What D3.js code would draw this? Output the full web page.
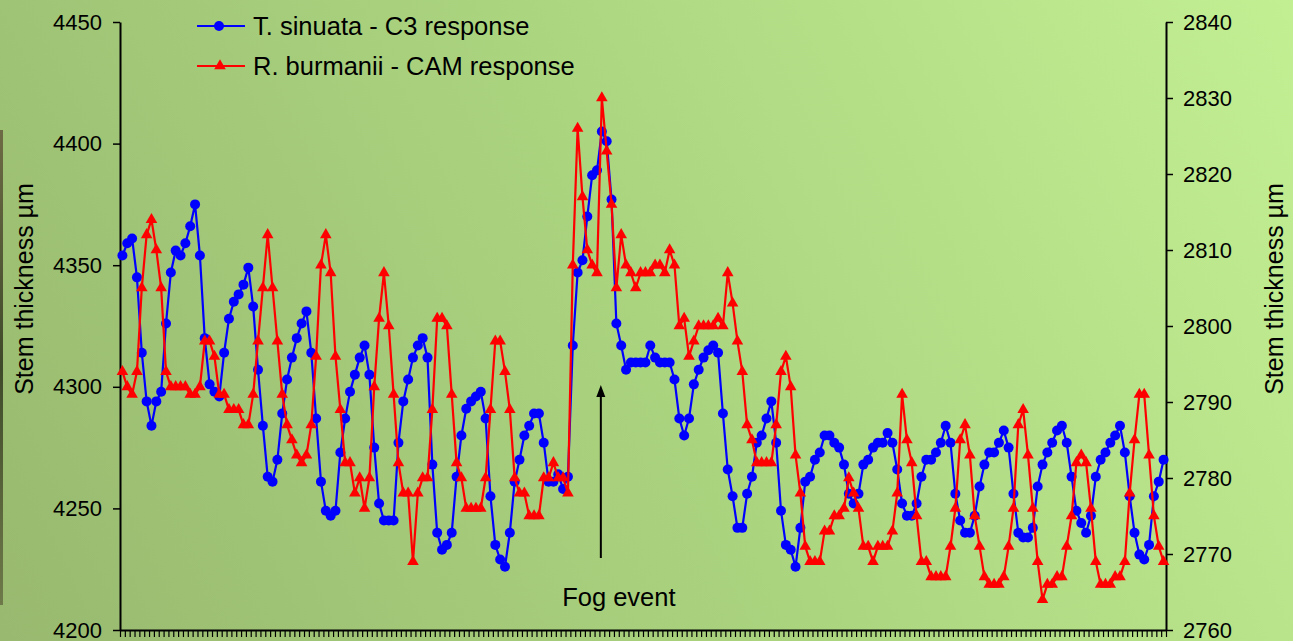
<!DOCTYPE html>
<html>
<head>
<meta charset="utf-8">
<script src="https://cdn.jsdelivr.net/npm/d3@7"></script>
<style>
  html, body { margin: 0; padding: 0; overflow: hidden; }
  svg { display: block; font-family: "Liberation Sans", Arial, sans-serif; }
</style>
</head>
<body>
<svg id="chart" width="1293" height="641"></svg>
<script>
// ---- Data (hourly readings, 216 categories) ----
const seriesNames = ["T. sinuata - C3 response", "R. burmanii - CAM response"];
const leftTicks = [4200, 4250, 4300, 4350, 4400, 4450];
const rightTicks = [2760, 2770, 2780, 2790, 2800, 2810, 2820, 2830, 2840];
const annotation = "Fog event";
const axisTitle = "Stem thickness µm";

const sinuata = [
  4354,4359,4361,4345,4314,4294,4284,4294,4298,4326,
  4347,4356,4354,4359,4366,4375,4354,4320,4301,4298,
  4296,4314,4328,4335,4338,4342,4349,4333,4307,4284,
  4263,4261,4270,4289,4303,4312,4320,4326,4331,4314,
  4287,4261,4249,4247,4249,4273,4287,4298,4305,4312,
  4317,4305,4275,4252,4245,4245,4245,4277,4294,4303,
  4312,4317,4320,4312,4268,4240,4233,4235,4240,4263,
  4280,4291,4294,4296,4298,4287,4255,4235,4229,4226,
  4240,4261,4270,4280,4284,4289,4289,4277,4261,4261,
  4264,4258,4263,4317,4347,4352,4370,4387,4389,4405,
  4401,4377,4326,4317,4307,4310,4310,4310,4310,4317,
  4312,4310,4310,4310,4303,4287,4280,4287,4301,4307,
  4312,4315,4317,4314,4289,4266,4255,4242,4242,4256,
  4263,4277,4280,4287,4294,4277,4249,4235,4233,4226,
  4242,4261,4263,4270,4273,4280,4280,4277,4275,4268,
  4256,4252,4256,4268,4270,4275,4277,4277,4281,4277,
  4266,4252,4247,4247,4252,4263,4270,4270,4273,4277,
  4284,4277,4256,4245,4240,4240,4247,4259,4268,4273,
  4273,4277,4282,4275,4256,4240,4238,4238,4242,4259,
  4268,4273,4277,4282,4284,4277,4263,4249,4244,4240,
  4247,4263,4270,4273,4277,4280,4284,4273,4255,4240,
  4231,4229,4235,4255,4261,4270
];

const burmanii = [
  2794,2792,2791,2794,2805,2812,2814,2810,2805,2794,
  2792,2792,2792,2792,2791,2791,2792,2798,2798,2796,
  2791,2791,2789,2789,2789,2787,2787,2791,2798,2805,
  2812,2805,2798,2791,2787,2785,2783,2782,2783,2787,
  2796,2808,2812,2807,2796,2789,2782,2782,2778,2780,
  2776,2780,2792,2801,2807,2800,2791,2782,2778,2778,
  2769,2778,2780,2780,2789,2801,2801,2800,2791,2782,
  2780,2776,2776,2776,2776,2780,2789,2798,2798,2794,
  2789,2780,2778,2778,2775,2775,2775,2780,2780,2782,
  2780,2780,2778,2808,2826,2817,2810,2808,2807,2830,
  2823,2816,2805,2812,2808,2807,2805,2807,2807,2807,
  2808,2808,2807,2810,2808,2800,2801,2796,2798,2800,
  2800,2800,2800,2801,2800,2807,2803,2798,2794,2787,
  2785,2782,2782,2782,2782,2787,2794,2796,2792,2783,
  2778,2771,2769,2769,2769,2773,2773,2775,2775,2776,
  2780,2778,2776,2771,2771,2769,2771,2771,2771,2773,
  2778,2791,2785,2782,2775,2769,2769,2767,2767,2767,
  2767,2771,2776,2785,2787,2783,2775,2771,2767,2766,
  2766,2766,2767,2771,2776,2787,2789,2783,2776,2769,
  2764,2766,2766,2767,2767,2771,2775,2782,2783,2782,
  2776,2769,2766,2766,2766,2767,2767,2769,2778,2785,
  2791,2791,2783,2775,2771,2769
];
const fogIndex = 99;  // category where the fog event arrow points

// ---- Layout ----
const W = 1293, H = 641;
const plot = { left: 120, right: 1166, top: 22, bottom: 630 };
const N = sinuata.length;

const svg = d3.select("#chart");

// background gradient
const defs = svg.append("defs");
const grad = defs.append("linearGradient")
  .attr("id", "bg").attr("gradientUnits", "userSpaceOnUse")
  .attr("x1", 0).attr("y1", H).attr("x2", W).attr("y2", 0);
grad.append("stop").attr("offset", "0%").attr("stop-color", "#98b96f");
grad.append("stop").attr("offset", "50%").attr("stop-color", "#abd47f");
grad.append("stop").attr("offset", "100%").attr("stop-color", "#c3ef93");
svg.append("rect").attr("width", W).attr("height", H).attr("fill", "url(#bg)");

// thin dark edge on the left (photo border)
const edge = defs.append("linearGradient").attr("id", "edge").attr("x1", 0).attr("y1", 0).attr("x2", 0).attr("y2", 1);
edge.append("stop").attr("offset", "0%").attr("stop-color", "#6d6b45");
edge.append("stop").attr("offset", "50%").attr("stop-color", "#3f4a2a");
edge.append("stop").attr("offset", "100%").attr("stop-color", "#6f7a4a");
svg.append("rect").attr("x", 0).attr("y", 130).attr("width", 3).attr("height", 475).attr("fill", "url(#edge)");

// ---- Scales ----
const x = d3.scaleLinear().domain([0, N]).range([plot.left, plot.right]);
const yL = d3.scaleLinear().domain([4200, 4450]).range([plot.bottom, plot.top]);
const yR = d3.scaleLinear().domain([2760, 2840]).range([plot.bottom, plot.top]);
const cx = i => x(i + 0.5);

// ---- Axes ----
const tickFont = "22px";
const gL = svg.append("g").attr("transform", `translate(${plot.left},0)`)
  .call(d3.axisLeft(yL).tickValues(leftTicks).tickSize(7).tickPadding(11).tickSizeOuter(0).tickFormat(d3.format("d")));
const gR = svg.append("g").attr("transform", `translate(${plot.right},0)`)
  .call(d3.axisRight(yR).tickValues(rightTicks).tickSize(7).tickPadding(10).tickSizeOuter(0).tickFormat(d3.format("d")));
const gB = svg.append("g").attr("transform", `translate(0,${plot.bottom})`)
  .call(d3.axisBottom(x).tickValues(d3.range(N + 1)).tickSize(7).tickSizeOuter(0).tickFormat(""));

[gL, gR, gB].forEach(g => {
  g.selectAll("path.domain").attr("stroke", "#000").attr("stroke-width", 2);
  g.selectAll(".tick line").attr("stroke", "#000").attr("stroke-width", 1.5);
  g.selectAll(".tick text").attr("fill", "#000").style("font-size", tickFont)
    .style("font-family", "'Liberation Sans', Arial, sans-serif");
});
gB.selectAll(".tick line").attr("stroke-width", 1.2);

// axis titles
svg.append("text")
  .attr("transform", `translate(33,289) rotate(-90)`)
  .attr("text-anchor", "middle").style("font-size", "25px").text(axisTitle);
svg.append("text")
  .attr("transform", `translate(1283,289) rotate(-90)`)
  .attr("text-anchor", "middle").style("font-size", "25px").text(axisTitle);

// ---- Series ----
const blue = "#0000ff", red = "#ff0000";
const lineL = d3.line().x((d, i) => cx(i)).y(d => yL(d));
const lineR = d3.line().x((d, i) => cx(i)).y(d => yR(d));

svg.append("path").datum(sinuata).attr("d", lineL)
  .attr("fill", "none").attr("stroke", blue).attr("stroke-width", 2.2).attr("stroke-linejoin", "round");
svg.append("g").selectAll("circle").data(sinuata).join("circle")
  .attr("cx", (d, i) => cx(i)).attr("cy", d => yL(d)).attr("r", 5).attr("fill", blue);

svg.append("path").datum(burmanii).attr("d", lineR)
  .attr("fill", "none").attr("stroke", red).attr("stroke-width", 2.2).attr("stroke-linejoin", "round");
const tri = d3.symbol().type(d3.symbolTriangle).size(58);
svg.append("g").selectAll("path").data(burmanii).join("path")
  .attr("d", tri).attr("transform", (d, i) => `translate(${cx(i)},${yR(d)})`).attr("fill", red);

// ---- Fog event annotation ----
const ax = cx(fogIndex) - 1;
svg.append("line").attr("x1", ax).attr("x2", ax).attr("y1", 558).attr("y2", 394)
  .attr("stroke", "#000").attr("stroke-width", 2);
svg.append("path").attr("d", `M${ax},385 L${ax - 4.5},397 L${ax + 4.5},397 Z`).attr("fill", "#000");
svg.append("text").attr("x", ax + 18).attr("y", 606).attr("text-anchor", "middle")
  .style("font-size", "25.5px").text(annotation);

// ---- Legend ----
const lg = svg.append("g");
const legendRows = [
  { name: seriesNames[0], color: blue, y: 26, mark: "circle" },
  { name: seriesNames[1], color: red, y: 66, mark: "tri" }
];
legendRows.forEach(r => {
  lg.append("line").attr("x1", 197).attr("x2", 245).attr("y1", r.y).attr("y2", r.y)
    .attr("stroke", r.color).attr("stroke-width", 2.2);
  if (r.mark === "circle") {
    lg.append("circle").attr("cx", 219).attr("cy", r.y).attr("r", 5).attr("fill", r.color);
  } else {
    lg.append("path").attr("d", tri).attr("transform", `translate(220,${r.y})`).attr("fill", r.color);
  }
  lg.append("text").attr("x", 253).attr("y", r.y + 9).style("font-size", "25.5px").text(r.name);
});
</script>
</body>
</html>
